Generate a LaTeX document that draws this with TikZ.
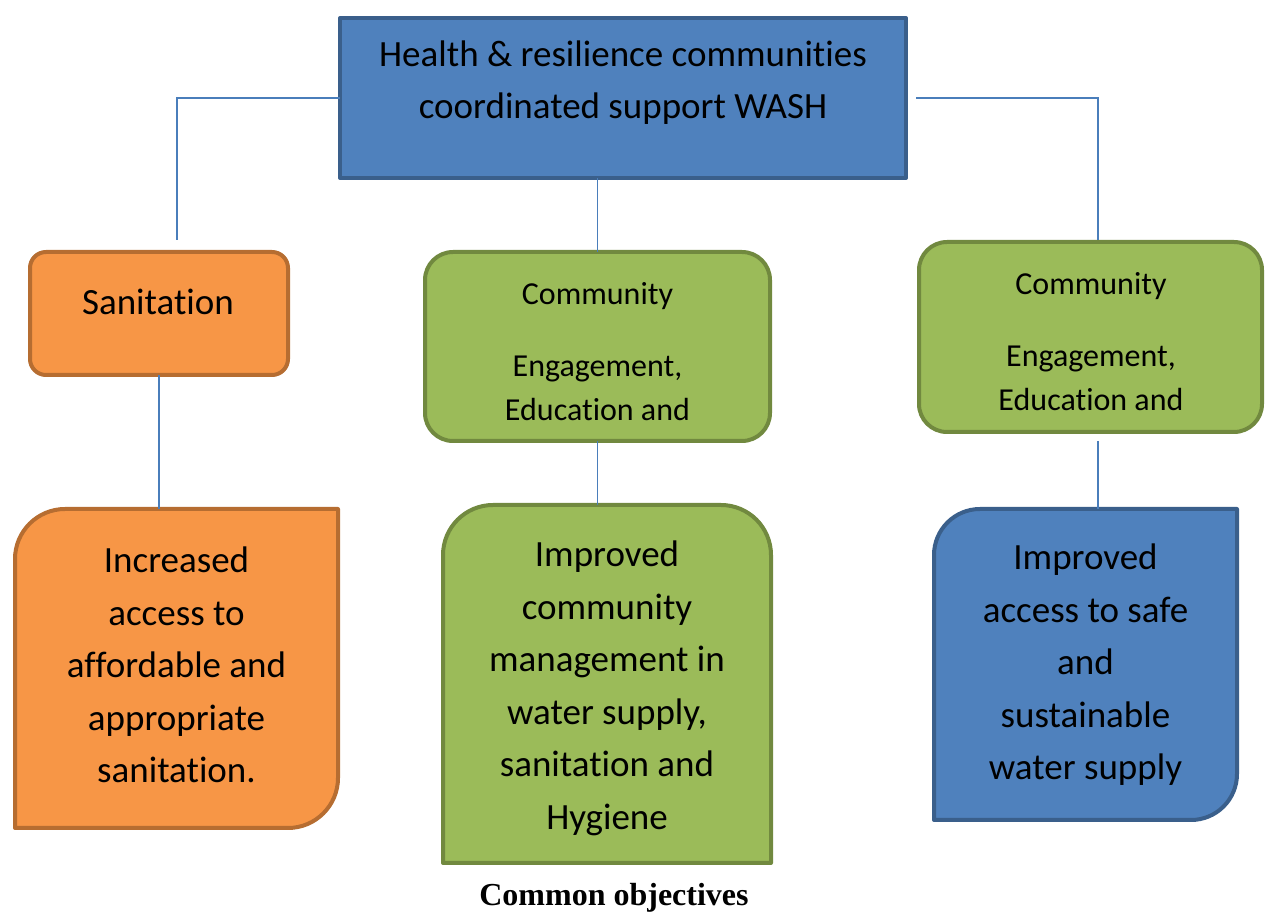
\documentclass[tikz,border=0pt]{standalone}
\usepackage{fontspec}
\setmainfont{Carlito}[Ligatures={NoCommon,NoContextual}]
\newfontfamily\capfont{Liberation Serif}
\usetikzlibrary{positioning}
\definecolor{washblue}{HTML}{4F81BD}
\definecolor{washblueline}{HTML}{3A5F8B}
\definecolor{washorange}{HTML}{F79646}
\definecolor{washorangeline}{HTML}{B66D31}
\definecolor{washgreen}{HTML}{9BBB59}
\definecolor{washgreenline}{HTML}{71893F}
\definecolor{linkblue}{HTML}{4A7EBB}
\tikzset{%
   boxline/.style={
      line width=2pt,
      line join=round
   },
   bluebox/.style={
      boxline,
      draw=washblueline,
      fill=washblue
   },
   orangebox/.style={
      boxline,
      draw=washorangeline,
      fill=washorange
   },
   greenbox/.style={
      boxline,
      draw=washgreenline,
      fill=washgreen
   },
   slot/.style={
      rectangle,
      inner sep=0pt,
      outer sep=0pt
   },
   bigtxt/.style={
      align=center,
      inner sep=0pt,
      font=\fontsize{18.5}{26.25}\selectfont
   },
   smalltxt/.style={
      align=center,
      inner sep=0pt,
      font=\fontsize{16}{22}\selectfont
   },
   link/.style={
      draw=linkblue,
      line width=0.75pt
   }
}

\begin{document}
\begin{tikzpicture}[x=0.5pt, y=-0.5pt]
   \useasboundingbox (0,0) rectangle (1266,914);
   \node[slot, bluebox, minimum width=283pt, minimum height=80pt] (top) at (623,98) {};
   \node[slot, orangebox, rounded corners=8pt, minimum width=129pt, minimum height=61.5pt] (san) at (159,313.5) {};
   \node[slot, greenbox, rounded corners=14pt, minimum width=172.5pt, minimum height=94.5pt] (commMid) at (597.5,346.5) {};
   \node[slot, greenbox, rounded corners=14pt, minimum width=171.5pt, minimum height=95pt] (commRight) at (1090.5,337) {};
   \node[slot, minimum width=161.5pt, minimum height=159.5pt] (objSan) at (176.5,668.5) {};
   \node[slot, minimum width=164pt, minimum height=179pt] (objComm) at (607,684) {};
   \node[slot, minimum width=151.5pt, minimum height=155.5pt] (objWater) at (1085.5,664.5) {};
   \draw[orangebox] ([xshift=25pt]objSan.north west) -- (objSan.north east)
      -- ([yshift=25pt]objSan.south east) arc[start angle=0, end angle=-90, radius=25pt]
      -- (objSan.south west) -- ([yshift=-25pt]objSan.north west)
      arc[start angle=180, end angle=90, radius=25pt] -- cycle;
   \draw[greenbox] (objComm.south west) -- ([yshift=-25pt]objComm.north west)
      arc[start angle=180, end angle=90, radius=25pt] -- ([xshift=-25pt]objComm.north east)
      arc[start angle=90, end angle=0, radius=25pt] -- (objComm.south east) -- cycle;
   \draw[bluebox] ([xshift=23pt]objWater.north west) -- (objWater.north east)
      -- ([yshift=23pt]objWater.south east) arc[start angle=0, end angle=-90, radius=23pt]
      -- (objWater.south west) -- ([yshift=-23pt]objWater.north west)
      arc[start angle=180, end angle=90, radius=23pt] -- cycle;
   \node[bigtxt] (topTxt) at (623,82.5) {Health \& resilience communities\\coordinated support WASH};
   \node[bigtxt] (sanTxt) at (158,302) {Sanitation};
   \node[smalltxt] (commMidTxt) at (597.5,352) {Community\\[14pt]Engagement,\\Education and};
   \node[smalltxt] (commRightTxt) at (1091,342) {Community\\[14pt]Engagement,\\Education and};
   \node[bigtxt] (objSanTxt) at (176.5,665) {Increased\\access to\\affordable and\\appropriate\\sanitation.};
   \node[bigtxt] (objCommTxt) at (607,688.5) {Improved\\community\\management in\\water supply,\\sanitation and\\Hygiene};
   \node[bigtxt] (objWaterTxt) at (1085.5,665) {Improved\\access to safe\\and\\sustainable\\water supply};
   \node[inner sep=0pt, font=\capfont\bfseries\fontsize{16}{19}\selectfont] (caption) at (614,898) {Common objectives};
   \coordinate (lend) at (177,240);
   \coordinate (rend) at (1098,240);
   \draw[link] (top.west) -| (lend);
   \draw[link, shorten <=5pt] (top.east) -| (rend);
   \draw[link] (commMid.north) -- (commMid.north |- top.south);
   \draw[link] (san.south) -- (san.south |- objSan.north);
   \draw[link] (commMid.south) -- (commMid.south |- objComm.north);
   \draw[link, shorten <=4.5pt] ([xshift=3.75pt]commRight.south) -- ([xshift=3.75pt]commRight.south |- objWater.north);
\end{tikzpicture}
\end{document}
